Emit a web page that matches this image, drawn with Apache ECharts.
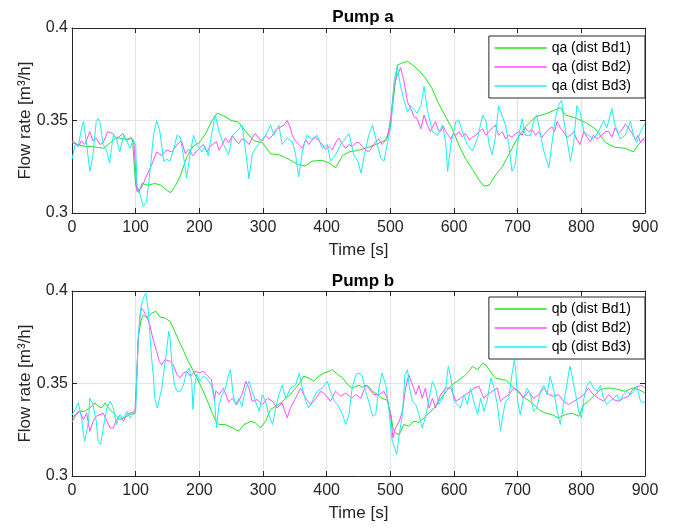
<!DOCTYPE html>
<html>
<head>
<meta charset="utf-8">
<script src="https://cdn.jsdelivr.net/npm/echarts@6/dist/echarts.min.js"></script>
<style>html,body{margin:0;padding:0;background:#fff}#c{width:679px;height:530px}</style>
</head>
<body>
<div id="c"></div>
<script>
// ---- data: [time s, flow m3/h] ----
const xTicks = [0,100,200,300,400,500,600,700,800,900];
const yTicks = [0.3,0.35,0.4];
const namesA = ['qa (dist Bd1)','qa (dist Bd2)','qa (dist Bd3)'];
const namesB = ['qb (dist Bd1)','qb (dist Bd2)','qb (dist Bd3)'];

const qaBd1 = [[0,0.338],[10,0.337],[20,0.336],[30,0.336],[40,0.3355],[50,0.335],[60,0.338],[70,0.341],[80,0.340],[95,0.340],[100,0.315],[105,0.311],[110,0.316],[120,0.315],[130,0.316],[140,0.315],[150,0.312],[155,0.311],[163,0.315],[170,0.320],[180,0.330],[190,0.336],[200,0.338],[210,0.343],[220,0.350],[228,0.354],[235,0.353],[241,0.352],[250,0.350],[262,0.349],[273,0.344],[286,0.339],[299,0.338],[312,0.332],[325,0.3315],[335,0.330],[346,0.328],[356,0.326],[367,0.3255],[377,0.328],[393,0.3285],[404,0.327],[414,0.3245],[425,0.331],[435,0.333],[446,0.3336],[461,0.335],[477,0.337],[493,0.3395],[500,0.347],[506,0.365],[511,0.380],[518,0.381],[527,0.382],[535,0.380],[545,0.377],[555,0.373],[566,0.367],[576,0.359],[587,0.352],[597,0.3455],[608,0.3365],[618,0.3295],[629,0.3235],[639,0.318],[647,0.3145],[655,0.315],[665,0.3205],[676,0.325],[686,0.3315],[699,0.340],[712,0.3465],[728,0.352],[743,0.3535],[754,0.355],[767,0.357],[775,0.353],[790,0.3515],[806,0.349],[822,0.3455],[838,0.338],[853,0.3355],[869,0.335],[882,0.333],[890,0.337],[900,0.341]];

const qaBd2 = [[0,0.339],[5,0.338],[10,0.336],[15,0.339],[20,0.337],[28,0.344],[33,0.339],[38,0.3405],[44,0.337],[49,0.338],[56,0.344],[64,0.343],[70,0.340],[75,0.3415],[80,0.343],[86,0.339],[92,0.341],[97,0.339],[102,0.3116],[104,0.3108],[109,0.3135],[117,0.320],[125,0.326],[133,0.333],[141,0.331],[149,0.334],[157,0.333],[165,0.337],[172,0.339],[178,0.332],[183,0.3345],[190,0.331],[196,0.3335],[206,0.337],[212,0.333],[217,0.336],[227,0.3385],[231,0.334],[236,0.337],[241,0.3405],[246,0.338],[252,0.342],[257,0.339],[262,0.3375],[267,0.340],[273,0.339],[278,0.337],[283,0.3405],[288,0.343],[294,0.340],[299,0.339],[304,0.342],[310,0.340],[315,0.342],[320,0.345],[325,0.346],[333,0.3475],[338,0.350],[342,0.347],[346,0.342],[351,0.339],[356,0.337],[362,0.335],[367,0.3395],[372,0.337],[377,0.3395],[383,0.341],[388,0.339],[393,0.337],[398,0.3345],[404,0.336],[409,0.334],[414,0.338],[419,0.3405],[425,0.337],[430,0.335],[435,0.337],[440,0.336],[446,0.338],[451,0.338],[456,0.336],[461,0.334],[466,0.333],[472,0.336],[477,0.3385],[482,0.340],[487,0.337],[492,0.339],[496,0.341],[501,0.353],[506,0.369],[511,0.3745],[516,0.3785],[521,0.372],[527,0.360],[532,0.3565],[537,0.352],[542,0.351],[548,0.3455],[553,0.353],[558,0.3475],[563,0.344],[567,0.347],[571,0.3495],[575,0.345],[579,0.344],[583,0.347],[587,0.344],[591,0.342],[595,0.340],[599,0.343],[603,0.342],[608,0.344],[613,0.341],[618,0.343],[624,0.3395],[629,0.341],[634,0.342],[640,0.344],[645,0.3455],[650,0.342],[655,0.344],[660,0.346],[665,0.3475],[670,0.342],[676,0.344],[681,0.340],[686,0.342],[691,0.341],[697,0.343],[702,0.344],[707,0.342],[712,0.346],[717,0.344],[723,0.345],[728,0.342],[733,0.344],[738,0.341],[743,0.343],[748,0.345],[754,0.3465],[758,0.344],[762,0.3495],[767,0.346],[772,0.344],[777,0.341],[783,0.342],[788,0.344],[793,0.3395],[798,0.337],[804,0.344],[809,0.341],[814,0.3385],[819,0.342],[825,0.340],[832,0.342],[838,0.344],[843,0.344],[848,0.341],[853,0.346],[858,0.343],[864,0.345],[869,0.348],[874,0.346],[880,0.343],[885,0.3395],[889,0.342],[893,0.338],[897,0.340],[900,0.339]];

const qaBd3 = [[0,0.329],[2,0.330],[5,0.337],[10,0.336],[15,0.346],[18,0.3495],[23,0.337],[28,0.3225],[33,0.3315],[38,0.3495],[41,0.351],[44,0.349],[49,0.337],[55,0.333],[59,0.327],[62,0.335],[65,0.342],[70,0.340],[75,0.333],[81,0.342],[86,0.339],[91,0.335],[96,0.339],[100,0.337],[102,0.315],[107,0.310],[112,0.3035],[117,0.306],[123,0.324],[128,0.342],[133,0.350],[136,0.349],[138,0.344],[144,0.328],[149,0.329],[154,0.328],[159,0.3335],[165,0.342],[170,0.341],[175,0.331],[180,0.319],[186,0.333],[191,0.342],[196,0.337],[204,0.333],[209,0.336],[214,0.331],[219,0.342],[225,0.353],[231,0.344],[238,0.337],[246,0.3315],[252,0.342],[259,0.344],[267,0.3475],[273,0.333],[278,0.3185],[283,0.3315],[288,0.335],[296,0.3385],[304,0.342],[312,0.3475],[317,0.342],[325,0.3475],[330,0.337],[338,0.3405],[346,0.3385],[351,0.332],[356,0.3195],[362,0.3335],[369,0.342],[377,0.340],[385,0.342],[393,0.335],[401,0.337],[406,0.328],[414,0.3315],[422,0.337],[430,0.3405],[435,0.343],[443,0.331],[449,0.328],[454,0.3215],[459,0.331],[466,0.342],[472,0.3475],[477,0.3405],[485,0.3295],[490,0.328],[495,0.337],[501,0.3475],[506,0.372],[511,0.379],[516,0.3685],[521,0.3615],[527,0.3545],[532,0.358],[537,0.356],[542,0.354],[548,0.358],[553,0.3685],[558,0.356],[566,0.344],[574,0.342],[582,0.3475],[587,0.338],[590,0.3225],[595,0.337],[603,0.3495],[608,0.350],[613,0.344],[621,0.337],[629,0.3335],[637,0.3405],[645,0.353],[650,0.350],[655,0.337],[660,0.3315],[665,0.341],[670,0.358],[675,0.353],[681,0.3475],[686,0.337],[691,0.3225],[696,0.326],[701,0.3405],[707,0.351],[712,0.342],[720,0.342],[725,0.3495],[730,0.353],[736,0.342],[741,0.3335],[749,0.3245],[754,0.338],[759,0.351],[764,0.358],[769,0.361],[772,0.351],[777,0.3405],[783,0.328],[788,0.338],[793,0.358],[798,0.3545],[804,0.344],[811,0.342],[819,0.340],[827,0.344],[835,0.350],[840,0.346],[848,0.3565],[853,0.3475],[861,0.340],[869,0.342],[877,0.3495],[882,0.342],[887,0.338],[893,0.344],[900,0.3485]];

const qbBd1 = [[0,0.331],[2,0.3314],[7,0.334],[12,0.335],[20,0.335],[28,0.3368],[36,0.3395],[41,0.3375],[47,0.337],[52,0.3395],[57,0.337],[62,0.335],[70,0.3325],[75,0.3305],[83,0.3315],[91,0.3332],[99,0.334],[102,0.355],[104,0.3746],[108,0.3836],[112,0.387],[117,0.3855],[125,0.388],[132,0.389],[138,0.386],[146,0.3854],[154,0.3836],[159,0.380],[167,0.3737],[175,0.368],[180,0.3638],[188,0.3584],[196,0.353],[204,0.3475],[211,0.342],[219,0.335],[226,0.3296],[231,0.3278],[241,0.3278],[252,0.326],[262,0.3242],[270,0.3278],[281,0.3296],[288,0.3287],[296,0.326],[304,0.3296],[312,0.336],[320,0.3377],[328,0.3395],[336,0.342],[343,0.344],[351,0.3475],[357,0.350],[364,0.354],[372,0.353],[380,0.3512],[388,0.354],[396,0.3557],[404,0.3566],[409,0.3575],[417,0.355],[425,0.353],[433,0.3494],[440,0.3475],[451,0.349],[456,0.348],[464,0.349],[472,0.3458],[480,0.344],[487,0.342],[495,0.341],[501,0.333],[504,0.326],[508,0.3232],[514,0.3224],[521,0.3278],[529,0.327],[537,0.3296],[545,0.329],[553,0.3314],[561,0.334],[569,0.3368],[576,0.3404],[584,0.344],[592,0.3475],[600,0.350],[608,0.352],[616,0.354],[624,0.3566],[629,0.3593],[637,0.3575],[645,0.361],[650,0.360],[655,0.3575],[660,0.355],[665,0.353],[676,0.352],[681,0.352],[691,0.3485],[702,0.345],[712,0.342],[723,0.3395],[733,0.336],[743,0.334],[754,0.3332],[764,0.3314],[775,0.3332],[785,0.334],[796,0.3323],[804,0.3386],[811,0.3404],[822,0.344],[830,0.3467],[838,0.3475],[848,0.3475],[859,0.3467],[869,0.3458],[880,0.3475],[890,0.3467],[900,0.3449]];

const qbBd2 = [[0,0.329],[2,0.3305],[7,0.3332],[12,0.335],[18,0.3305],[23,0.334],[28,0.3242],[33,0.3296],[38,0.3323],[44,0.3332],[49,0.334],[55,0.3296],[60,0.326],[65,0.326],[70,0.3305],[75,0.3323],[81,0.3296],[86,0.3332],[91,0.334],[99,0.335],[102,0.3566],[104,0.3728],[107,0.387],[109,0.3908],[113,0.389],[118,0.3854],[122,0.3818],[128,0.3728],[133,0.3674],[137,0.362],[141,0.360],[146,0.3629],[154,0.362],[159,0.360],[165,0.3548],[170,0.353],[175,0.3557],[180,0.3566],[186,0.3539],[193,0.3566],[201,0.3557],[206,0.3566],[211,0.3548],[219,0.352],[224,0.3413],[226,0.346],[231,0.344],[238,0.3475],[246,0.340],[252,0.342],[259,0.3386],[267,0.344],[273,0.3512],[278,0.3475],[283,0.3404],[291,0.3413],[299,0.3386],[307,0.342],[315,0.3404],[322,0.3368],[330,0.3395],[338,0.3314],[343,0.3368],[351,0.342],[359,0.3475],[367,0.342],[375,0.3386],[383,0.342],[391,0.3458],[398,0.344],[406,0.3404],[414,0.3458],[422,0.3431],[430,0.3449],[440,0.342],[446,0.344],[454,0.342],[461,0.349],[466,0.3475],[474,0.344],[482,0.344],[490,0.3458],[495,0.342],[501,0.3314],[504,0.3206],[508,0.326],[514,0.3296],[519,0.335],[524,0.3475],[529,0.3548],[535,0.349],[540,0.344],[545,0.349],[550,0.342],[555,0.3475],[561,0.3368],[566,0.342],[571,0.3368],[579,0.344],[587,0.3475],[595,0.3475],[603,0.3404],[610,0.342],[618,0.344],[626,0.3458],[631,0.3475],[639,0.3485],[647,0.342],[652,0.344],[660,0.3458],[668,0.3475],[673,0.3404],[678,0.342],[686,0.344],[694,0.3475],[702,0.3458],[709,0.342],[717,0.3458],[725,0.342],[733,0.344],[741,0.3475],[749,0.344],[757,0.343],[764,0.344],[772,0.3404],[780,0.3386],[788,0.3404],[796,0.342],[804,0.344],[811,0.3475],[819,0.344],[827,0.342],[835,0.3404],[843,0.344],[850,0.3413],[859,0.3404],[866,0.342],[874,0.3431],[882,0.3475],[890,0.3485],[895,0.349],[900,0.3475]];

const qbBd3 = [[0,0.333],[2,0.3332],[5,0.336],[10,0.3395],[15,0.3314],[18,0.3224],[20,0.3188],[26,0.3296],[28,0.342],[33,0.3386],[38,0.3296],[41,0.3188],[45,0.317],[49,0.326],[55,0.3368],[60,0.3404],[65,0.3368],[70,0.3278],[75,0.3332],[81,0.3314],[86,0.335],[91,0.3314],[96,0.3332],[100,0.334],[102,0.3566],[104,0.3746],[108,0.3908],[112,0.3962],[116,0.3989],[120,0.389],[122,0.3782],[125,0.3638],[128,0.353],[130,0.342],[134,0.3368],[137,0.3377],[141,0.3475],[145,0.3584],[149,0.3692],[152,0.3782],[154,0.3746],[157,0.360],[161,0.349],[165,0.3458],[170,0.3458],[175,0.349],[180,0.3566],[184,0.3584],[188,0.3512],[190,0.336],[192,0.3475],[196,0.355],[201,0.3512],[206,0.354],[211,0.353],[219,0.349],[224,0.3404],[227,0.326],[231,0.3386],[236,0.344],[241,0.3475],[246,0.3548],[249,0.3575],[253,0.344],[257,0.3386],[262,0.342],[267,0.3377],[273,0.3475],[278,0.3512],[283,0.3458],[288,0.3404],[294,0.335],[299,0.344],[304,0.3404],[309,0.3332],[315,0.3278],[320,0.3368],[325,0.344],[330,0.349],[336,0.342],[343,0.3475],[351,0.349],[357,0.3557],[362,0.3475],[367,0.3404],[372,0.3368],[377,0.3404],[385,0.3458],[393,0.3475],[401,0.3512],[406,0.3458],[412,0.3404],[417,0.3386],[425,0.3332],[430,0.3278],[435,0.3332],[440,0.3475],[446,0.3548],[451,0.3557],[456,0.3539],[461,0.3458],[466,0.3404],[472,0.3323],[477,0.3332],[482,0.3475],[487,0.3557],[493,0.349],[497,0.3386],[501,0.3242],[503,0.3188],[507,0.3152],[510,0.3116],[514,0.3224],[519,0.3332],[523,0.3548],[527,0.3575],[530,0.3475],[535,0.3404],[540,0.3386],[545,0.3332],[550,0.326],[555,0.3314],[561,0.342],[566,0.3512],[571,0.3475],[576,0.3386],[582,0.342],[587,0.3475],[591,0.3593],[595,0.353],[600,0.3404],[605,0.3386],[610,0.3368],[616,0.344],[621,0.3386],[626,0.3475],[631,0.3404],[637,0.3332],[642,0.342],[647,0.335],[652,0.3404],[658,0.353],[663,0.3475],[668,0.3386],[673,0.3242],[676,0.3314],[681,0.3404],[686,0.342],[691,0.3548],[695,0.3629],[697,0.3566],[700,0.3404],[704,0.3332],[709,0.342],[715,0.3475],[720,0.344],[725,0.335],[730,0.3368],[736,0.3458],[741,0.349],[746,0.344],[751,0.354],[757,0.3458],[762,0.335],[767,0.3278],[772,0.3386],[777,0.349],[782,0.3593],[785,0.3548],[791,0.344],[796,0.335],[800,0.3314],[804,0.342],[809,0.349],[814,0.3512],[819,0.3475],[825,0.3458],[830,0.349],[835,0.342],[840,0.3386],[845,0.3404],[851,0.342],[856,0.344],[861,0.3404],[866,0.344],[872,0.3458],[877,0.344],[882,0.3458],[887,0.3485],[893,0.3404],[898,0.3395],[900,0.3404]];

// ---- styling ----
const FONT = '"Liberation Sans", Arial, Helvetica, sans-serif';
const AX = '#262626';
const GRIDC = '#e3e3e3';
const COLORS = ['#1fe31f', '#ff4dff', '#19f0f0'];

const chart = echarts.init(document.getElementById('c'), null, {renderer: 'canvas'});

function xAx(g, top) {
  return {
    type: 'value', gridIndex: g, min: xTicks[0], max: xTicks[xTicks.length-1],
    interval: xTicks[1]-xTicks[0], position: top ? 'top' : 'bottom',
    axisLine: {show: true, onZero: false, lineStyle: {color: AX, width: 1}},
    axisTick: {show: true, inside: true, length: 5, lineStyle: {color: AX}},
    axisLabel: {show: !top, color: AX, fontSize: 16, fontFamily: FONT, margin: 7},
    splitLine: {show: !top, lineStyle: {color: GRIDC, width: 1}},
    name: top ? '' : 'Time [s]', nameLocation: 'middle', nameGap: 29,
    nameMoveOverlap: false,
    nameTextStyle: {color: AX, fontSize: 17, fontFamily: FONT}
  };
}
function yAx(g, right) {
  return {
    type: 'value', gridIndex: g, min: yTicks[0], max: yTicks[yTicks.length-1],
    interval: 0.05, position: right ? 'right' : 'left',
    axisLine: {show: true, onZero: false, lineStyle: {color: AX, width: 1}},
    axisTick: {show: true, inside: true, length: 5, lineStyle: {color: AX}},
    axisLabel: {show: !right, color: AX, fontSize: 16, fontFamily: FONT, margin: 4,
      formatter: v => String(+v.toFixed(2))},
    splitLine: {show: !right, lineStyle: {color: GRIDC, width: 1}},
    name: right ? '' : 'Flow rate [m³/h]', nameLocation: 'middle', nameGap: 38,
    nameMoveOverlap: false,
    nameTextStyle: {color: AX, fontSize: 17, fontFamily: FONT}
  };
}
function ser(name, data, ci, g) {
  return {
    name, type: 'line', data, xAxisIndex: g*2, yAxisIndex: g*2,
    showSymbol: false, symbol: 'none', animation: false,
    color: COLORS[ci], lineStyle: {width: 1, color: COLORS[ci]}, z: 3 + ci
  };
}
function leg(names, top) {
  return {
    data: names, orient: 'vertical', right: 34, top,
    itemWidth: 52, itemHeight: 14, itemGap: 5,
    padding: [5, 14, 5, 5],
    backgroundColor: '#fff', borderColor: AX, borderWidth: 1, borderRadius: 0,
    itemStyle: {opacity: 0},
    lineStyle: {width: 1.5},
    textStyle: {color: '#000', fontSize: 14, fontFamily: FONT},
    z: 10
  };
}

chart.setOption({
  animation: false,
  backgroundColor: '#fff',
  title: [
    {text: 'Pump a', left: 358, top: 4, textAlign: 'center',
     textStyle: {fontSize: 17, fontWeight: 'bold', color: '#000', fontFamily: FONT}},
    {text: 'Pump b', left: 358, top: 268, textAlign: 'center',
     textStyle: {fontSize: 17, fontWeight: 'bold', color: '#000', fontFamily: FONT}}
  ],
  grid: [
    {left: 72, right: 34, top: 28, height: 185},
    {left: 72, right: 34, top: 291, height: 185}
  ],
  xAxis: [xAx(0,false), xAx(0,true), xAx(1,false), xAx(1,true)],
  yAxis: [yAx(0,false), yAx(0,true), yAx(1,false), yAx(1,true)],
  legend: [leg(namesA, 36), leg(namesB, 297)],
  series: [
    ser(namesA[0], qaBd1, 0, 0), ser(namesA[1], qaBd2, 1, 0), ser(namesA[2], qaBd3, 2, 0),
    ser(namesB[0], qbBd1, 0, 1), ser(namesB[1], qbBd2, 1, 1), ser(namesB[2], qbBd3, 2, 1)
  ]
});
</script>
</body>
</html>
